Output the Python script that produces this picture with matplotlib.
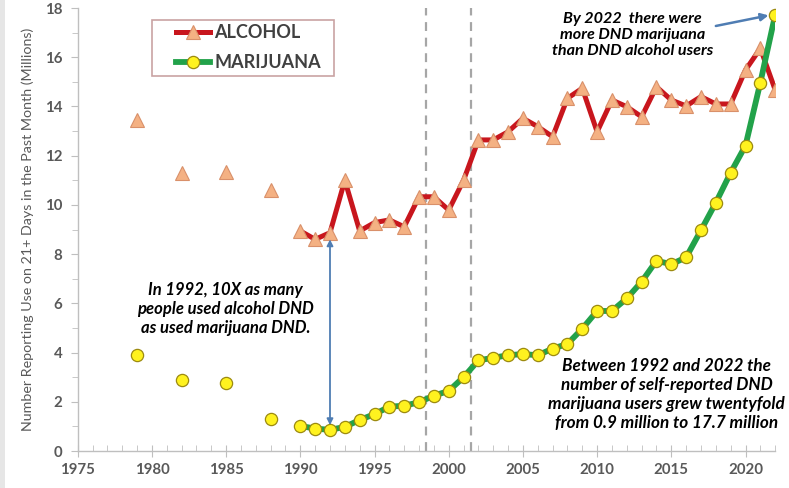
import matplotlib
matplotlib.use("Agg")
import matplotlib.pyplot as plt
from matplotlib.ticker import MultipleLocator
from matplotlib.patches import Rectangle

plt.rcParams['font.family'] = ['Lato', 'DejaVu Sans']

# ---- data ----
early_years = [1979, 1982, 1985, 1988]
early_alcohol = [13.45, 11.3, 11.35, 10.6]
early_marijuana = [3.9, 2.9, 2.75, 1.3]

years = list(range(1990, 2023))
alcohol = [8.94, 8.6, 8.87, 11.0, 8.94, 9.28, 9.39, 9.11, 10.33, 10.33,
           9.79, 11.0, 12.64, 12.64, 12.97, 13.52, 13.18, 12.77, 14.33, 14.74,
           12.97, 14.26, 13.99, 13.58, 14.8, 14.26, 14.02, 14.4, 14.1, 14.1,
           15.48, 16.36, 14.67]
marijuana = [1.02, 0.91, 0.86, 0.98, 1.26, 1.5, 1.8, 1.84, 1.98, 2.25,
             2.44, 3.0, 3.68, 3.79, 3.89, 3.94, 3.89, 4.16, 4.35, 4.97,
             5.69, 5.69, 6.2, 6.88, 7.73, 7.59, 7.87, 8.97, 10.09, 11.31,
             12.41, 14.97, 17.72]
divider_years = [1998.5, 2001.5]

xticks = [1975, 1980, 1985, 1990, 1995, 2000, 2005, 2010, 2015, 2020]
yticks = [0, 2, 4, 6, 8, 10, 12, 14, 16, 18]

ylabel = "Number Reporting Use on 21+ Days in the Past Month (Millions)"
note_1992 = "In 1992, 10X as many\npeople used alcohol DND\nas used marijuana DND."
note_2022 = "By 2022  there were\nmore DND marijuana\nthan DND alcohol users"
note_growth = ("Between 1992 and 2022 the\nnumber of self-reported DND\n"
               "marijuana users grew twentyfold\nfrom 0.9 million to 17.7 million")

# ---- style ----
RED = "#C8161D"
GREEN = "#22A24A"
TRI_FACE = "#F4B183"
TRI_EDGE = "#D9906A"
CIRC_FACE = "#FFF21F"
CIRC_EDGE = "#9C8A10"
GRAY = "#595959"
ARROW = "#4F7DB3"

W, H = 789, 488
fig = plt.figure(figsize=(W / 100, H / 100), dpi=100)
fig.patches.append(Rectangle((0, 0), 5 / W, 1, transform=fig.transFigure,
                             facecolor="#E6E6E6", edgecolor="none"))
ax = fig.add_axes([0.0985, 0.0758, 0.9825 - 0.0985, 0.9836 - 0.0758])

for xv in divider_years:
    ax.axvline(xv, color="#A6A6A6", lw=1.6, ls=(0, (4, 3)), zorder=1)

ax.plot(years, alcohol, color=RED, lw=3.6, marker="^", ms=10.5,
        mfc=TRI_FACE, mec=TRI_EDGE, mew=0.8, zorder=3, label="ALCOHOL")
ax.plot(early_years, early_alcohol, ls="none", marker="^", ms=10.5,
        mfc=TRI_FACE, mec=TRI_EDGE, mew=0.8, zorder=3)
ax.plot(years, marijuana, color=GREEN, lw=4.2, marker="o", ms=8.8,
        mfc=CIRC_FACE, mec=CIRC_EDGE, mew=0.9, zorder=4, label="MARIJUANA")
ax.plot(early_years, early_marijuana, ls="none", marker="o", ms=8.8,
        mfc=CIRC_FACE, mec=CIRC_EDGE, mew=0.9, zorder=4)

ax.set_xlim(1975, 2022)
ax.set_ylim(0, 18)
ax.set_xticks(xticks)
ax.set_yticks(yticks)
ax.xaxis.set_minor_locator(MultipleLocator(1))
ax.yaxis.set_minor_locator(MultipleLocator(1))

for s in ["top", "right"]:
    ax.spines[s].set_visible(False)
for s in ["left", "bottom"]:
    ax.spines[s].set_color("#BFBFBF")
    ax.spines[s].set_linewidth(1.0)

ax.tick_params(axis="x", which="major", direction="inout", length=9,
               color="#BFBFBF", labelsize=10.8, labelcolor=GRAY, pad=4)
ax.tick_params(axis="x", which="minor", direction="in", length=4,
               color="#BFBFBF")
ax.tick_params(axis="y", which="major", direction="out", length=5,
               color="#BFBFBF", labelsize=10.8, labelcolor=GRAY, pad=6)
ax.tick_params(axis="y", which="minor", direction="out", length=4,
               color="#BFBFBF")
for lab in ax.get_xticklabels() + ax.get_yticklabels():
    lab.set_fontweight("bold")

ax.set_ylabel(ylabel, fontsize=10.3, color=GRAY, labelpad=8)

# legend frame drawn separately (pixel box 152..334 x 20..76)
ax_x0, ax_w = 77.7, 774 - 77.7
ax_ytop, ax_h = 8, 451 - 8
def px2ax(px, py):
    return (px - ax_x0) / ax_w, (451 - py) / ax_h
fx0, fy0 = px2ax(152, 76)
fx1, fy1 = px2ax(334, 20)
ax.add_patch(Rectangle((fx0, fy0), fx1 - fx0, fy1 - fy0, transform=ax.transAxes,
                       facecolor="white", edgecolor="#C9A3A3", lw=1.2, zorder=6))
lx, ly = px2ax(176, 24)
leg = ax.legend(loc="upper left", bbox_to_anchor=(lx, ly), frameon=False,
                handlelength=1.9, handletextpad=0.2, borderpad=0.0,
                borderaxespad=0.0, labelspacing=0.72,
                prop={"weight": "bold", "size": 13})
leg.set_zorder(7)
for t in leg.get_texts():
    t.set_color("#404040")

txt_kw = dict(ha="center", va="center", fontweight="bold", fontstyle="italic",
              linespacing=1.22, color="black")
ax.text(1984.95, 5.77, note_1992, fontsize=12, **txt_kw)
ax.text(2012.4, 16.9, note_2022, fontsize=11.6, **txt_kw)
ax.text(2014.7, 2.3, note_growth, fontsize=12.3, linespacing=1.25,
        **{k: v for k, v in txt_kw.items() if k != "linespacing"})

ax.annotate("", xy=(1992, 1.05), xytext=(1992, 8.6),
            arrowprops=dict(arrowstyle="<|-|>", color=ARROW, lw=1.3,
                            mutation_scale=9, shrinkA=0, shrinkB=0), zorder=5)
ax.annotate("", xy=(2021.55, 17.7), xytext=(2018.0, 17.27),
            arrowprops=dict(arrowstyle="-|>", color=ARROW, lw=1.8,
                            mutation_scale=11, shrinkA=0, shrinkB=0), zorder=5)

fig.savefig("out.png", dpi=100)
